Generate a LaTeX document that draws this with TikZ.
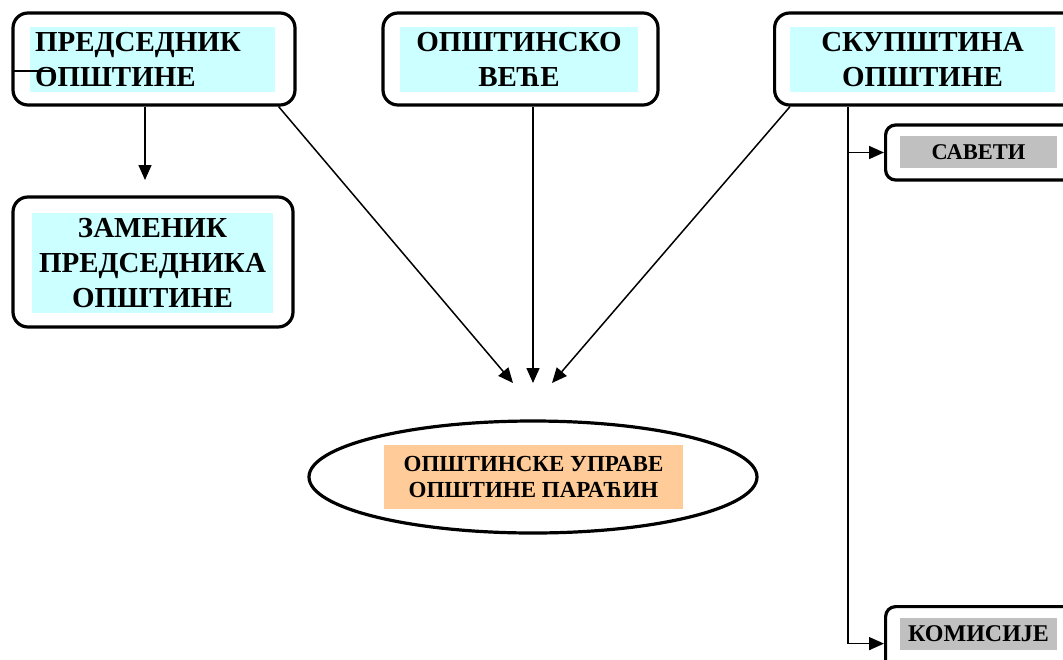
\documentclass[tikz,border=0pt]{standalone}
\usepackage{fontspec}
\setmainfont{Liberation Serif}
\usetikzlibrary{arrows.meta,shapes.geometric}

\definecolor{lightcyan}{HTML}{CCFFFF}
\definecolor{lightgray}{HTML}{C0C0C0}
\definecolor{lightorange}{HTML}{FFCC99}

\tikzset{
  outerbox/.style={shape=rectangle, rounded corners=15pt, draw=black, line width=3.2pt, inner sep=0pt},
  smallbox/.style={outerbox, rounded corners=10pt},
  cyanlabel/.style={fill=lightcyan, inner sep=0pt, align=center, font=\fontsize{29}{35}\selectfont\bfseries},
  graylabel/.style={fill=lightgray, inner sep=0pt, align=center, font=\fontsize{22.5}{26}\selectfont\bfseries},
  link/.style={line width=1.5pt, -{Triangle[length=15pt,width=13pt]}}
}

\begin{document}
\begin{tikzpicture}[x=1pt, y=-1pt]
    \useasboundingbox (0,0) rectangle (1063,659);

    % top row
    \node[outerbox, minimum width=282pt, minimum height=92pt] (pred) at (154, 59) {};
    \node[cyanlabel, minimum width=245pt, minimum height=65pt, text width=235pt, inner xsep=5pt, align=left] (predtxt) at (152.5, 59.5) {ПРЕДСЕДНИК\\ОПШТИНЕ};
    \node[outerbox, minimum width=275pt, minimum height=92pt] (vece) at (520.5, 59) {};
    \node[cyanlabel, minimum width=238pt, minimum height=65pt] (vecetxt) at (519, 59.5) {ОПШТИНСКО\\ВЕЋЕ};
    \node[outerbox, minimum width=330pt, minimum height=92pt, anchor=west] (skup) at (773, 59) {};
    \node[cyanlabel, minimum width=265pt, minimum height=65pt] (skuptxt) at (922.5, 59.5) {СКУПШТИНА\\ОПШТИНЕ};

    % deputy
    \node[outerbox, minimum width=280pt, minimum height=130pt] (zam) at (153, 262) {};
    \node[cyanlabel, minimum width=241pt, minimum height=100pt] (zamtxt) at (152.5, 263) {ЗАМЕНИК\\ПРЕДСЕДНИКА\\ОПШТИНЕ};

    % councils and commissions
    \node[smallbox, minimum width=200pt, minimum height=55pt, anchor=west] (sav) at (884, 152.5) {};
    \node[graylabel, minimum width=157pt, minimum height=32pt] (savtxt) at (978.5, 152) {САВЕТИ};
    \node[smallbox, minimum width=200pt, minimum height=70pt, anchor=north west] (kom) at (884, 605) {};
    \node[graylabel, minimum width=157pt, minimum height=32pt, font=\fontsize{24}{26}\selectfont\bfseries] (komtxt) at (978.5, 634) {КОМИСИЈЕ};

    % administration
    \node[shape=ellipse, draw=black, line width=3.2pt, minimum width=448pt, minimum height=112pt] (uprava) at (533, 477) {};
    \node[fill=lightorange, inner sep=0pt, align=center, font=\fontsize{23}{26}\selectfont\bfseries,
          minimum width=299pt, minimum height=64pt] (upravatxt) at (533.5, 477) {ОПШТИНСКЕ УПРАВЕ\\ОПШТИНЕ ПАРАЋИН};

    \coordinate (zamtop) at (145, 180);
    \coordinate (tipl) at (513, 383);
    \coordinate (tipm) at (533, 383);
    \coordinate (tipr) at (552, 383);
    \coordinate (stray) at (55, 71);

    \draw[line width=1.5pt] (13, 71) -- (stray);
    \draw[link] (pred.south -| zamtop) -- (zamtop);
    \draw[link] ([xshift=-18pt]pred.south east) -- (tipl);
    \draw[link] (vece.south -| tipm) -- (tipm);
    \draw[link] ([xshift=17pt]skup.south west) -- (tipr);
    \draw[line width=1.5pt] ([xshift=75pt]skup.south west) -- ++(0, 537) coordinate (trunk);
    \draw[link] ([xshift=75pt]skup.south west |- sav.west) -- (sav.west);
    \draw[link] (trunk) -- (trunk -| kom.west);
\end{tikzpicture}
\end{document}
